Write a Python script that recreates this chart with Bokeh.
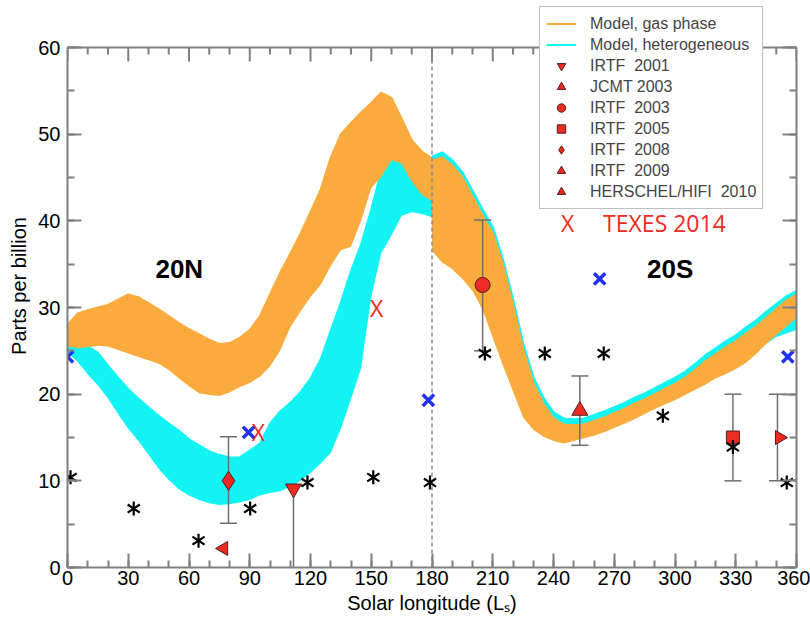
import math
from bokeh.plotting import figure
from bokeh.models import (Range1d, SingleIntervalTicker, Span, Label,
                          Legend, LegendItem, LinearAxis)
from bokeh.core.properties import value
from bokeh.embed import file_html
from bokeh.resources import INLINE

# ---------------- data ----------------
band_x = [0, 5, 10, 15, 20, 25, 30, 35, 40, 45, 50, 55, 60, 65, 70, 75, 80, 85, 90,
          95, 100, 105, 110, 115, 120, 125, 130, 135, 140, 145, 150, 155, 160, 165,
          170, 175, 179.9,
          180.1, 185, 190, 195, 200, 205, 210, 215, 220, 225, 230, 235, 240, 245, 250,
          255, 260, 265, 270, 275, 280, 285, 290, 295, 300, 305, 310, 315, 320, 325,
          330, 335, 340, 345, 350, 355, 360]

gas_hi = [28.0, 29.3, 29.7, 30.0, 30.3, 30.9, 31.5, 31.2, 30.5, 29.8, 29.0, 28.2, 27.5,
          26.9, 26.3, 25.8, 25.9, 26.5, 27.4, 29.0, 31.5, 34.0, 36.2, 38.5, 41.0, 43.6,
          47.3, 50.0, 51.3, 52.5, 53.6, 54.8, 54.2, 51.8, 49.3, 48.0, 47.2,
          47.0, 47.3, 46.4, 45.0, 42.8, 40.6, 38.6, 35.0, 30.3, 25.2, 21.3, 18.9, 17.2,
          16.5, 16.4, 16.5, 16.9, 17.3, 17.8, 18.3, 18.9, 19.4, 20.0, 20.6, 21.2, 21.9,
          22.8, 23.8, 24.6, 25.4, 26.1, 27.0, 27.8, 28.8, 29.8, 30.8, 31.5]

gas_lo = [25.5, 25.3, 25.4, 25.6, 25.5, 25.1, 24.7, 24.3, 23.9, 23.5, 22.8, 21.8, 20.9,
          20.1, 19.9, 19.8, 20.2, 20.8, 21.3, 22.0, 23.2, 25.0, 27.7, 29.5, 31.2, 32.6,
          34.8, 36.6, 37.0, 40.0, 43.8, 45.1, 47.0, 46.6, 44.5, 43.0, 42.3,
          36.5, 35.2, 34.4, 33.3, 31.9, 29.7, 26.5, 23.3, 20.3, 17.3, 15.9, 15.1, 14.6,
          14.3, 14.6, 14.9, 15.2, 15.6, 16.1, 16.6, 17.1, 17.7, 18.3, 18.8, 19.3, 19.9,
          20.5, 21.1, 21.8, 22.3, 22.9, 23.6, 24.6, 25.8, 26.8, 27.8, 28.8]

het_hi = [25.6, 25.9, 25.5, 24.8, 23.3, 21.9, 20.6, 19.5, 18.5, 17.5, 16.6, 15.8, 14.8,
          14.1, 13.4, 13.0, 12.7, 12.7, 13.5, 14.3, 16.6, 18.0, 19.0, 20.2, 21.8, 24.0,
          27.3, 30.6, 34.2, 37.3, 41.3, 45.8, 47.3, 46.8, 44.8, 43.3, 42.5,
          47.4, 47.9, 47.0, 45.6, 43.5, 41.3, 39.3, 35.6, 31.0, 25.9, 22.0, 19.6, 17.9,
          17.2, 17.1, 17.2, 17.6, 18.0, 18.5, 19.0, 19.6, 20.1, 20.7, 21.3, 21.9, 22.6,
          23.5, 24.5, 25.3, 26.1, 26.8, 27.7, 28.5, 29.5, 30.4, 31.3, 31.9]

het_lo = [24.8, 23.7, 22.3, 21.0, 19.5, 17.7, 16.0, 14.6, 13.0, 11.4, 10.1, 9.0, 8.3,
          7.8, 7.4, 7.2, 7.3, 7.5, 7.8, 8.3, 8.6, 8.8, 9.3, 10.0, 10.9, 12.0, 13.2, 16.0,
          19.4, 23.0, 31.2, 36.3, 38.3, 40.6, 41.0, 40.8, 40.4,
          36.8, 35.5, 34.7, 33.6, 32.2, 30.0, 26.8, 23.6, 20.6, 17.6, 16.2, 15.4, 14.9,
          14.6, 14.9, 15.2, 15.5, 15.9, 16.4, 16.9, 17.4, 18.0, 18.6, 19.1, 19.6, 20.2,
          20.8, 21.4, 22.1, 22.6, 23.2, 23.9, 24.8, 25.8, 26.6, 27.0, 27.4]

# black asterisks
star_x = [1.5, 32.7, 64.7, 90.2, 118.5, 151.0, 179.0, 206.1, 235.7, 264.8, 294.0, 328.6, 355.2]
star_y = [10.4, 6.8, 3.1, 6.8, 9.8, 10.4, 9.8, 24.7, 24.7, 24.7, 17.5, 13.9, 9.8]

# blue X symbols
blue_x = [0.0, 89.4, 178.2, 262.8, 355.7]
blue_y = [24.3, 15.6, 19.3, 33.3, 24.3]

# TEXES 2014 (red X)
texes_x = [94.3, 152.7]
texes_y = [15.6, 30.0]

# observations
obs_labels = ["IRTF  2001", "JCMT 2003", "IRTF  2003", "IRTF  2005", "IRTF  2008",
              "IRTF  2009", "HERSCHEL/HIFI  2010"]
obs_x = [111.6, 253.0, 205.0, 328.6, 79.5, 351.6, 77.1]
obs_y = [9.1, 18.1, 32.6, 15.0, 10.0, 15.0, 2.2]
obs_bar_x = [111.6, 253.0, 205.0, 328.6, 79.5, 350.6, None]
obs_lo = [0.0, 14.1, 25.0, 10.0, 5.1, 10.0, None]
obs_hi = [9.1, 22.1, 40.1, 20.0, 15.1, 20.0, None]
obs_caps = [False, True, True, True, True, True, False]
obs_marker = ["inverted_triangle", "triangle", "circle", "square", "diamond",
              "triangle", "triangle"]
obs_angle_deg = [0, 0, 0, 0, 0, -90, 90]

region_text = ["20N", "20S"]
region_x = [55.2, 297.6]
region_y = [34.5, 34.4]

equinox_ls = 180
x_lo, x_hi = 0, 360
y_lo, y_hi = 0, 60

# ---------------- styles ----------------
FONT = "Liberation Sans"
GRAY = "#808080"
ORANGE = "#F9AC3D"
CYAN = "#12F4F4"
RED = "#EE2B22"
BLUE = "#2233EE"

FRAME_TOP_PAD = 4          # px above the y=60 line that still belongs to the frame
PX_PER_Y = 520 / 60.0
Y_FRAME_TOP = y_hi + (47 - FRAME_TOP_PAD) / PX_PER_Y

p = figure(width=810, height=623, x_range=Range1d(x_lo, x_hi),
           y_range=Range1d(y_lo, Y_FRAME_TOP),
           output_backend="svg", toolbar_location=None,
           min_border_left=67, min_border_right=14, min_border_top=FRAME_TOP_PAD,
           min_border_bottom=56, background_fill_color="white",
           border_fill_color="white")
p.grid.visible = False
p.outline_line_color = None

xt = SingleIntervalTicker(interval=30, num_minor_ticks=3)
yt = SingleIntervalTicker(interval=10, num_minor_ticks=2)
p.xaxis.ticker = xt
p.yaxis.ticker = yt
p.yaxis.bounds = (y_lo, y_hi)
p.add_layout(LinearAxis(ticker=yt, bounds=(y_lo, y_hi)), "right")

for ax in p.axis:
    ax.axis_line_color = GRAY
    ax.axis_line_width = 2
    ax.major_tick_line_color = GRAY
    ax.minor_tick_line_color = GRAY
    ax.major_tick_line_width = 2
    ax.minor_tick_line_width = 2
    ax.major_tick_in = 14
    ax.major_tick_out = 0
    ax.minor_tick_in = 7
    ax.minor_tick_out = 0
    ax.major_label_text_font = FONT
    ax.major_label_text_font_size = "20px"
    ax.major_label_text_color = "black"
    ax.axis_label_text_font = FONT
    ax.axis_label_text_font_size = "20px"
    ax.axis_label_text_font_style = "normal"
    ax.axis_label_text_color = "black"

rax = p.right[0]
rax.major_label_text_color = None
rax.major_label_text_font_size = "1px"
rax.major_label_standoff = 0

p.below[0].major_label_standoff = 3
p.below[0].axis_label = "Solar longitude (L\u209b)"
p.below[0].axis_label_standoff = 4
p.left[0].major_label_standoff = 7
p.left[0].axis_label = "Parts per billion"
p.left[0].axis_label_standoff = 5

# top edge of the plotting box with inward ticks
p.add_layout(Span(location=y_hi, dimension="width", line_color=GRAY, line_width=2))
top_major = list(range(x_lo, x_hi + 1, 30))
top_minor = [t for t in range(x_lo, x_hi + 1, 10) if t % 30]
p.segment(x0=top_major, y0=[y_hi] * len(top_major), x1=top_major,
          y1=[y_hi - 14 / PX_PER_Y] * len(top_major), line_color=GRAY, line_width=2)
p.segment(x0=top_minor, y0=[y_hi] * len(top_minor), x1=top_minor,
          y1=[y_hi - 7 / PX_PER_Y] * len(top_minor), line_color=GRAY, line_width=2)

# model bands
p.varea(x=band_x, y1=het_lo, y2=het_hi, fill_color=CYAN)
het_line = p.line(band_x, het_hi, line_color=CYAN, line_width=2)
p.varea(x=band_x, y1=gas_lo, y2=gas_hi, fill_color=ORANGE)
gas_line = p.line(band_x, gas_hi, line_color=ORANGE, line_width=2)

# equinox divider
p.segment(x0=[equinox_ls], y0=[y_lo], x1=[equinox_ls], y1=[y_hi],
          line_color="#8a8a8a", line_width=1.5, line_dash="4 3")

# error bars
for i in range(len(obs_x)):
    if obs_lo[i] is None:
        continue
    bx = obs_bar_x[i]
    p.segment(x0=[bx], y0=[obs_lo[i]], x1=[bx], y1=[obs_hi[i]],
              line_color="#6e6e6e", line_width=1.5)
    if obs_caps[i]:
        p.scatter(x=[bx, bx], y=[obs_lo[i], obs_hi[i]], marker="dash", size=17,
                  line_color="#6e6e6e", line_width=1.5)

# observation markers
obs_sizes = {"inverted_triangle": 16, "triangle": 16, "circle": 15, "square": 13,
             "diamond": 19}
obs_renderers = []
for i in range(len(obs_x)):
    r = p.scatter(x=[obs_x[i]], y=[obs_y[i]], marker=obs_marker[i],
                  size=obs_sizes[obs_marker[i]] - (2 if obs_angle_deg[i] else 0),
                  angle=math.radians(obs_angle_deg[i]),
                  fill_color=RED, line_color="#4a2020", line_width=1)
    obs_renderers.append(r)

# asterisks (6-armed)
p.scatter(x=star_x, y=star_y, marker="y", size=14, line_color="black", line_width=2.2)
p.scatter(x=star_x, y=star_y, marker="y", size=14, angle=math.pi, line_color="black",
          line_width=2.2)

# blue X
p.scatter(x=blue_x, y=blue_y, marker="x", size=16, line_color=BLUE, line_width=3.5)

# TEXES red X
p.text(x=texes_x, y=texes_y, text=["X"] * len(texes_x), text_color=RED,
       text_font=value("Open Sans"), text_font_size="23px", text_align="center",
       text_baseline="middle")

# region labels
p.text(x=region_x, y=region_y, text=region_text, text_font=value(FONT),
       text_font_style="bold", text_font_size="26px", text_align="center",
       text_baseline="middle", text_color="black")

# TEXES legend text
p.add_layout(Label(x=247.0, y=39.8, text="X", text_color=RED, text_font="Open Sans",
                   text_font_size="23px", text_align="center", text_baseline="middle"))
p.add_layout(Label(x=264.5, y=39.8, text="TEXES 2014", text_color=RED,
                   text_font="Open Sans", text_font_size="23px", text_align="left",
                   text_baseline="middle"))

# legend
items = [LegendItem(label="Model, gas phase", renderers=[gas_line]),
         LegendItem(label="Model, heterogeneous", renderers=[het_line])]
for lab, r in zip(obs_labels, obs_renderers):
    items.append(LegendItem(label=lab, renderers=[r]))
legend = Legend(items=items, location=(472, 358), orientation="vertical",
                label_text_font=FONT, label_text_font_size="16px",
                label_height=21, glyph_height=21, glyph_width=30, label_standoff=14,
                padding=6, spacing=0, margin=0, border_line_color=GRAY,
                border_line_width=1.5, background_fill_color="white",
                background_fill_alpha=1.0)
p.add_layout(legend, "center")

open("out.html", "w").write(file_html(p, INLINE))
